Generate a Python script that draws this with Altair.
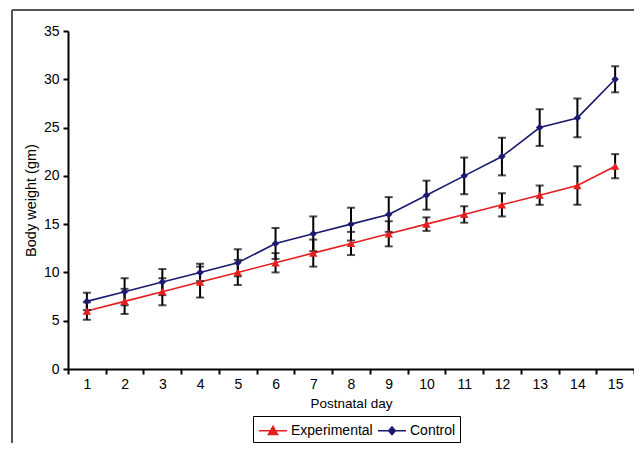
import altair as alt
import pandas as pd

days = list(range(1, 16))
series_names = ["Experimental", "Control"]
experimental = [6, 7, 8, 9, 10, 11, 12, 13, 14, 15, 16, 17, 18, 19, 21]
experimental_err = [0.9, 1.3, 1.4, 1.6, 1.3, 1.0, 1.4, 1.2, 1.3, 0.7, 0.85, 1.2, 1.0, 2.0, 1.25]
control = [7, 8, 9, 10, 11, 13, 14, 15, 16, 18, 20, 22, 25, 26, 30]
control_err = [0.9, 1.4, 1.35, 0.9, 1.4, 1.6, 1.8, 1.7, 1.8, 1.5, 1.9, 1.95, 1.9, 2.0, 1.35]
y_ticks = [0, 5, 10, 15, 20, 25, 30, 35]

rows = []
for d, v, e in zip(days, experimental, experimental_err):
    rows.append({"day": d, "series": "Experimental", "weight": v, "err": e})
for d, v, e in zip(days, control, control_err):
    rows.append({"day": d, "series": "Control", "weight": v, "err": e})
df = pd.DataFrame(rows)

FONT = "Liberation Sans"
colors = ["#e41e1e", "#1c1a6e"]
legend_shapes = [
    "M-0.9,0H2.05M0.58,-0.45L1.05,0.4L0.11,0.4Z",
    "M-0.9,0H2.05M0.58,-0.4L0.93,0L0.58,0.4L0.23,0Z",
]

x_enc = alt.X(
    "day:O",
    title="Postnatal day",
    scale=alt.Scale(type="band", paddingInner=0, paddingOuter=0),
    axis=alt.Axis(labelAngle=0, tickBand="extent", tickSize=5, labelPadding=3,
                  titlePadding=5, domainWidth=2, tickWidth=2, titleFontSize=13.5),
)
y_scale = alt.Scale(domain=[0, 35], nice=False)
y_axis = alt.Axis(values=y_ticks, tickSize=5, labelPadding=4, titlePadding=5,
                  domainWidth=2, tickWidth=2, grid=False, titleFontSize=14.5)

color_scale = alt.Scale(domain=series_names, range=colors)

base = alt.Chart(df)

lines = base.mark_line(strokeWidth=1.6).encode(
    x=x_enc,
    y=alt.Y("weight:Q", title="Body weight (gm)", scale=y_scale, axis=y_axis),
    color=alt.Color("series:N", scale=color_scale, legend=None),
)

errbars = base.transform_calculate(
    lo="datum.weight - datum.err", hi="datum.weight + datum.err"
).mark_rule(color="black", strokeWidth=2).encode(
    x="day:O", y="lo:Q", y2="hi:Q"
)

caps_hi = base.transform_calculate(hi="datum.weight + datum.err").mark_tick(
    color="black", thickness=2, size=8
).encode(x="day:O", y="hi:Q")
caps_lo = base.transform_calculate(lo="datum.weight - datum.err").mark_tick(
    color="black", thickness=2, size=8
).encode(x="day:O", y="lo:Q")

points = base.mark_point(filled=True, opacity=1).encode(
    x="day:O",
    y="weight:Q",
    color=alt.Color("series:N", scale=color_scale, legend=None),
    shape=alt.Shape("series:N", scale=alt.Scale(domain=series_names, range=["triangle-up", "diamond"]), legend=None),
    size=alt.Size("series:N", scale=alt.Scale(domain=series_names, range=[70, 55]), legend=None),
)

leg = alt.Legend(
    title=None, orient="none", legendX=185, legendY=385, direction="horizontal",
    strokeColor="black", padding=4, labelFontSize=14, labelFont=FONT, labelColor="black",
    symbolSize=361, symbolStrokeWidth=1.6, labelOffset=13, columnPadding=1,
    symbolOpacity=1,
)
legend_layer = base.transform_filter("datum.day < 0").mark_point(filled=True, opacity=1).encode(
    x="day:O",
    y="weight:Q",
    color=alt.Color("series:N", scale=color_scale, sort=series_names, legend=leg),
    stroke=alt.Stroke("series:N", scale=color_scale, sort=series_names, legend=leg),
    shape=alt.Shape("series:N", scale=alt.Scale(domain=series_names, range=legend_shapes),
                    sort=series_names, legend=leg),
)

frame_left = alt.Chart(df).mark_rule(color="#555555", strokeWidth=1.5).encode(
    x=alt.value(-56), y=alt.value(-21), y2=alt.value(420)
)
frame_top = alt.Chart(df).mark_rule(color="#555555", strokeWidth=1.5).encode(
    x=alt.value(-56), x2=alt.value(566), y=alt.value(-21)
)

chart = alt.layer(lines, errbars, caps_hi, caps_lo, points, legend_layer, frame_left, frame_top).resolve_scale(
    color="independent", shape="independent", stroke="independent", size="independent"
).properties(
    width=566, height=338,
    autosize=alt.AutoSizeParams(type="none"),
    padding={"left": 60, "top": 23, "right": 0, "bottom": 74},
).configure(font=FONT).configure_axis(
    labelFont=FONT, titleFont=FONT, labelFontSize=14,
    labelColor="black", titleColor="black", domainColor="black", tickColor="black",
    titleFontWeight="normal",
).configure_view(stroke=None)

chart.save("out.html", embed_options={"renderer": "svg", "actions": False})
